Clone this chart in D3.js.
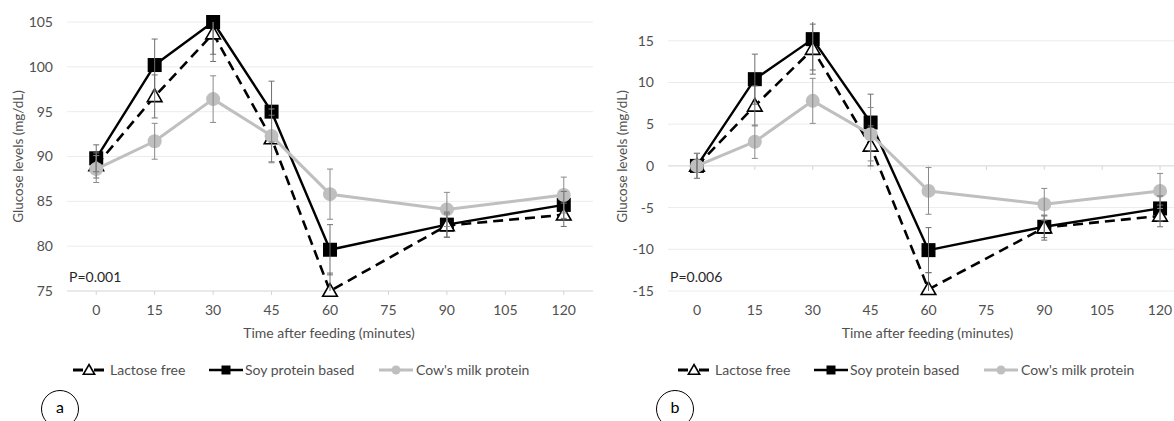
<!DOCTYPE html>
<html>
<head>
<meta charset="utf-8">
<script src="https://cdn.jsdelivr.net/npm/d3@7"></script>
<style>
  html, body { margin: 0; padding: 0; background: #fff; }
  svg { display: block; }
</style>
</head>
<body>
<svg id="chart" width="1174" height="421"></svg>
<script>
// ---------- DATA ----------
const categories = ["0", "15", "30", "45", "60", "75", "90", "105", "120"];
const times = ["0", "15", "30", "45", "60", "90", "120"];
const seriesNames = ["Lactose free", "Soy protein based", "Cow's milk protein"];

// Panel a: absolute glucose (mg/dL)
const lactoseA   = [89.0, 96.7, 103.7, 92.0, 75.0, 82.3, 83.5];
const lactoseASE = [1.4, 2.4, 3.1, 2.6, 2.0, 1.3, 1.3];
const soyA       = [89.8, 100.2, 105.0, 95.0, 79.6, 82.4, 84.6];
const soyASE     = [1.5, 2.9, 3.6, 3.4, 2.8, 1.4, 1.5];
const cowA       = [88.6, 91.7, 96.4, 92.3, 85.8, 84.1, 85.7];
const cowASE     = [1.5, 2.0, 2.6, 3.0, 2.8, 1.9, 2.0];
const yTicksA    = [75, 80, 85, 90, 95, 100, 105];

// Panel b: change from baseline (mg/dL)
const lactoseB   = [0, 7.2, 14.0, 2.4, -14.8, -7.4, -6.0];
const lactoseBSE = [1.5, 2.4, 3.0, 2.4, 2.0, 1.5, 1.3];
const soyB       = [0, 10.4, 15.2, 5.2, -10.1, -7.3, -5.1];
const soyBSE     = [1.5, 3.0, 3.7, 3.4, 2.7, 1.3, 1.5];
const cowB       = [0, 2.9, 7.8, 3.8, -3.0, -4.6, -3.0];
const cowBSE     = [1.5, 2.0, 2.7, 3.2, 2.8, 1.9, 2.1];
const yTicksB    = [-15, -10, -5, 0, 5, 10, 15];

const pTexts = ["P=0.001", "P=0.006"];
const panelLabels = ["a", "b"];
const xTitle = "Time after feeding (minutes)";
const yTitle = "Glucose levels (mg/dL)";

// ---------- DRAW ----------
const FONT = "Lato, 'Open Sans', sans-serif";
const TXT = "#505050";
const svg = d3.select("#chart");
svg.append("rect").attr("width", 1174).attr("height", 421).attr("fill", "#fff");

const styles = [
  { color: "#000", width: 2.6, dash: "10,6", marker: "triangle" },
  { color: "#000", width: 2.4, dash: null, marker: "square" },
  { color: "#bfbfbf", width: 3, dash: null, marker: "circle" }
];

function marker(g, type, x, y, size) {
  if (type === "square") {
    g.append("rect").attr("x", x - size / 2).attr("y", y - size / 2)
      .attr("width", size).attr("height", size).attr("fill", "#000");
  } else if (type === "triangle") {
    const s = d3.symbol().type(d3.symbolTriangle).size(size * size * 0.55);
    g.append("path").attr("d", s()).attr("transform", `translate(${x},${y + 1})`)
      .attr("fill", "#fff").attr("stroke", "#000").attr("stroke-width", 1.6);
  } else {
    g.append("circle").attr("cx", x).attr("cy", y).attr("r", size / 2)
      .attr("fill", "#bfbfbf");
  }
}

function drawPanel(idx, cfg) {
  const g = svg.append("g");
  const x = d3.scaleBand().domain(categories).range([cfg.left, cfg.right]);
  const cx = c => x(c) + x.bandwidth() / 2;
  const y = d3.scaleLinear().domain(cfg.domain).range([cfg.bottomPx, cfg.topTickPx]);
  const plotTop = 22, plotBottom = cfg.bottomPx;

  // gridlines
  g.selectAll(".grid").data(cfg.ticks.filter(t => t !== cfg.axisVal)).enter()
    .append("line")
    .attr("x1", cfg.left).attr("x2", cfg.right)
    .attr("y1", d => y(d)).attr("y2", d => y(d))
    .attr("stroke", "#ececec").attr("stroke-width", 1);
  // category axis line
  const ay = y(cfg.axisVal);
  g.append("line").attr("x1", cfg.left).attr("x2", cfg.right)
    .attr("y1", ay).attr("y2", ay).attr("stroke", "#d4d4d4").attr("stroke-width", 1);
  g.selectAll(".tk").data(categories).enter().append("line")
    .attr("x1", d => cx(d)).attr("x2", d => cx(d))
    .attr("y1", ay).attr("y2", ay + 4).attr("stroke", "#d4d4d4");

  // y tick labels
  g.selectAll(".yl").data(cfg.ticks).enter().append("text")
    .attr("x", cfg.left - 14).attr("y", d => y(d)).attr("dy", "0.35em")
    .attr("text-anchor", "end").attr("font-family", FONT).attr("font-size", 14)
    .attr("fill", TXT).text(d => d);
  // x tick labels
  g.selectAll(".xl").data(categories).enter().append("text")
    .attr("x", d => cx(d)).attr("y", 310).attr("dy", "0.35em")
    .attr("text-anchor", "middle").attr("font-family", FONT).attr("font-size", 14)
    .attr("fill", TXT).text(d => d);
  // axis titles
  g.append("text").attr("x", (cfg.left + cfg.right) / 2 - 1).attr("y", 333).attr("dy", "0.35em")
    .attr("text-anchor", "middle").attr("font-family", FONT).attr("font-size", 14)
    .attr("fill", TXT).text(xTitle);
  g.append("text").attr("transform", `translate(${cfg.yTitleX},${(plotTop + plotBottom) / 2}) rotate(-90)`)
    .attr("dy", "0.35em").attr("text-anchor", "middle").attr("font-family", FONT)
    .attr("font-size", 13.5).attr("fill", TXT).text(yTitle);

  // clip
  const clipId = "clip" + idx;
  svg.append("clipPath").attr("id", clipId).append("rect")
    .attr("x", cfg.left).attr("y", plotTop).attr("width", cfg.right - cfg.left + 10)
    .attr("height", plotBottom - plotTop);

  const order = [1, 0, 2];
  const layer = g.append("g");
  order.forEach(si => {
    const vals = cfg.series[si], st = styles[si];
    const pts = times.map((t, i) => [cx(t), y(vals[i])]);
    layer.append("path").attr("d", d3.line()(pts)).attr("fill", "none")
      .attr("stroke", st.color).attr("stroke-width", st.width)
      .attr("stroke-dasharray", st.dash).attr("stroke-linejoin", "round");
    pts.forEach(p => marker(layer, st.marker, p[0], p[1],
      st.marker === "square" ? 14 : st.marker === "triangle" ? 13 : 14));
  });

  // error bars on top
  const eb = g.append("g").attr("clip-path", `url(#${clipId})`);
  order.forEach(si => {
    const vals = cfg.series[si], se = cfg.se[si];
    times.forEach((t, i) => {
      const px = cx(t), y1 = y(vals[i] + se[i]), y2 = y(vals[i] - se[i]);
      const col = si === 2 ? "#8a8a8a" : "#6e6e6e";
      eb.append("line").attr("x1", px).attr("x2", px).attr("y1", y1).attr("y2", y2)
        .attr("stroke", col).attr("stroke-width", 1);
      [y1, y2].forEach(yy => eb.append("line").attr("x1", px - 3).attr("x2", px + 3)
        .attr("y1", yy).attr("y2", yy).attr("stroke", col).attr("stroke-width", 1));
    });
  });

  // P value
  g.append("text").attr("x", cfg.left + 2).attr("y", 277).attr("dy", "0.35em")
    .attr("font-family", FONT).attr("font-size", 14).attr("fill", "#262626").text(pTexts[idx]);

  // legend
  const L = cfg.legendX, ly = 370;
  const items = [
    { x1: 0, x2: 31, m: 16, tx: 37 },
    { x1: 136, x2: 170, m: 153, tx: 172 },
    { x1: 306, x2: 340, m: 323, tx: 343 }
  ];
  items.forEach((it, si) => {
    const st = styles[si];
    if (si === 0) {
      [[it.x1, it.x1 + 10], [it.x2 - 10, it.x2]].forEach(seg =>
        g.append("line").attr("x1", L + seg[0]).attr("x2", L + seg[1]).attr("y1", ly).attr("y2", ly)
          .attr("stroke", st.color).attr("stroke-width", 3));
    } else {
      g.append("line").attr("x1", L + it.x1).attr("x2", L + it.x2).attr("y1", ly).attr("y2", ly)
        .attr("stroke", st.color).attr("stroke-width", st.width);
    }
    marker(g, st.marker, L + it.m, ly, st.marker === "circle" ? 9 : st.marker === "square" ? 9 : 10);
    g.append("text").attr("x", L + it.tx).attr("y", ly).attr("dy", "0.35em")
      .attr("font-family", FONT).attr("font-size", 14).attr("fill", TXT).text(seriesNames[si]);
  });

  // panel label circle
  g.append("circle").attr("cx", cfg.circX).attr("cy", 409).attr("r", 18.5)
    .attr("fill", "none").attr("stroke", "#000").attr("stroke-width", 1);
  g.append("text").attr("x", cfg.circX).attr("y", 407).attr("dy", "0.35em")
    .attr("text-anchor", "middle").attr("font-family", FONT).attr("font-size", 16)
    .attr("fill", "#000").text(panelLabels[idx]);
}

drawPanel(0, {
  left: 67, right: 593, domain: [75, 105], bottomPx: 291, topTickPx: 22,
  ticks: yTicksA, axisVal: 75, yTitleX: 18,
  series: [lactoseA, soyA, cowA], se: [lactoseASE, soyASE, cowASE],
  legendX: 73, circX: 60
});
drawPanel(1, {
  left: 668, right: 1189, domain: [-15, 15], bottomPx: 291, topTickPx: 40.8,
  ticks: yTicksB, axisVal: 0, yTitleX: 622,
  series: [lactoseB, soyB, cowB], se: [lactoseBSE, soyBSE, cowBSE],
  legendX: 678, circX: 675
});
</script>
</body>
</html>
